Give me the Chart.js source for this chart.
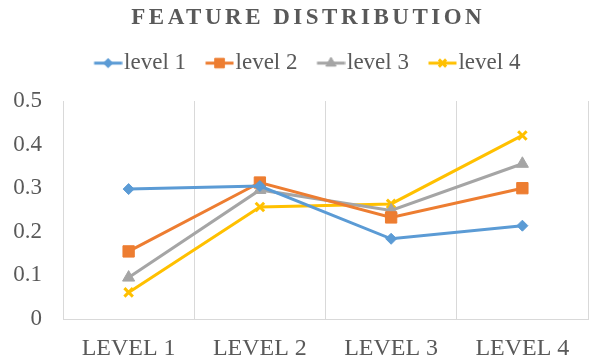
<!DOCTYPE html>
<html>
<head>
<meta charset="utf-8">
<script src="https://cdn.jsdelivr.net/npm/chart.js@4/dist/chart.umd.min.js"></script>
<style>
  html, body { margin: 0; padding: 0; background: #ffffff; }
  #wrap { width: 597px; height: 362px; position: relative; }
</style>
</head>
<body>
<div id="wrap"><canvas id="c" width="597" height="362"></canvas></div>
<script>
// ---- data ----
const titleText = 'FEATURE DISTRIBUTION';
const categories = ['LEVEL 1', 'LEVEL 2', 'LEVEL 3', 'LEVEL 4'];
const seriesNames = ['level 1', 'level 2', 'level 3', 'level 4'];
const level1 = [0.298, 0.305, 0.184, 0.214];
const level2 = [0.155, 0.313, 0.233, 0.300];
const level3 = [0.095, 0.296, 0.249, 0.356];
const level4 = [0.061, 0.257, 0.264, 0.421];
const yTickLabels = ['0', '0.1', '0.2', '0.3', '0.4', '0.5'];

// ---- styles ----
const FONT = "'Liberation Serif', 'Times New Roman', serif";
const TEXT = '#595959';
const GRID = '#D9D9D9';
const colors = ['#5B9BD5', '#ED7D31', '#A5A5A5', '#FFC000'];
const pointStyles = ['rectRot', 'rect', 'triangle', 'crossRot'];
const pointRadii = [5.5, 8, 7, 6];
const pointBorders = [1, 1, 1, 3];
const LEGEND_GAP = 16.4;
const TITLE_SHIFT = 13.25;
const LEGEND_SHIFT = 12.5;

function makeIcon(i) {
  const cv = document.createElement('canvas');
  cv.width = 38; cv.height = 18;
  const c = cv.getContext('2d');
  c.strokeStyle = colors[i];
  c.fillStyle = colors[i];
  c.lineWidth = 3;
  c.beginPath();
  c.moveTo(9.5, 9);
  c.lineTo(37.5, 9);
  c.stroke();
  c.lineWidth = pointBorders[i];
  Chart.helpers.drawPoint(c, {pointStyle: pointStyles[i], radius: pointRadii[i] * 0.85, borderWidth: pointBorders[i], rotation: 0}, 23.5, 9);
  return cv;
}

const seriesValues = [level1, level2, level3, level4];
const datasets = seriesValues.map((vals, i) => ({
  label: seriesNames[i],
  data: vals,
  borderColor: colors[i],
  backgroundColor: colors[i],
  borderWidth: 3,
  pointStyle: pointStyles[i],
  pointRadius: pointRadii[i],
  pointBorderWidth: pointBorders[i],
  pointBackgroundColor: colors[i],
  pointBorderColor: colors[i],
  tension: 0,
  fill: false
}));

const tweakPlugin = {
  id: 'tweaks',
  beforeLayout(chart) {
    const lg = chart.legend;
    if (lg && !lg._tw) {
      const f = lg.fit;
      lg.fit = function () { f.call(this); this.height += LEGEND_GAP; };
      const ld = lg.draw;
      lg.draw = function () {
        const c = this.ctx;
        c.save();
        c.translate(LEGEND_SHIFT, 0);
        ld.apply(this, arguments);
        c.restore();
      };
      lg._tw = true;
    }
    const tb = chart.titleBlock;
    if (tb && !tb._tw) {
      const d = tb.draw;
      tb.draw = function () {
        const c = this.ctx;
        c.save();
        c.translate(TITLE_SHIFT, 0);
        c.letterSpacing = '3.5px';
        d.apply(this, arguments);
        c.restore();
      };
      tb._tw = true;
    }
  }
};

const icons = seriesNames.map((_, i) => makeIcon(i));

new Chart(document.getElementById('c'), {
  type: 'line',
  data: { labels: categories, datasets: datasets },
  options: {
    responsive: false,
    animation: false,
    events: [],
    layout: { padding: { left: 0, right: 7, top: 0, bottom: 0 } },
    plugins: {
      tooltip: { enabled: false },
      title: {
        display: true,
        text: titleText,
        color: TEXT,
        font: { family: FONT, size: 23, weight: 'bold', lineHeight: 1.2 },
        padding: { top: 4, bottom: 0 }
      },
      legend: {
        display: true,
        position: 'top',
        labels: {
          color: TEXT,
          font: { family: FONT, size: 23 },
          padding: 20,
          usePointStyle: true,
          pointStyleWidth: 18,
          generateLabels: (chart) => chart.data.datasets.map((ds, i) => ({
            text: ds.label,
            pointStyle: icons[i],
            fillStyle: 'rgba(0,0,0,0)',
            strokeStyle: 'rgba(0,0,0,0)',
            lineWidth: 0,
            hidden: false,
            datasetIndex: i,
            fontColor: TEXT
          }))
        }
      }
    },
    scales: {
      x: {
        offset: true,
        grid: { display: true, offset: true, color: GRID, lineWidth: 1, drawTicks: false },
        border: { display: true, color: GRID, width: 1 },
        ticks: { color: TEXT, font: { family: FONT, size: 24 }, padding: 15, maxRotation: 0, autoSkip: false },
        afterFit: (s) => { s.height = 43; }
      },
      y: {
        min: 0,
        max: 0.5,
        grid: { display: false, drawTicks: false },
        border: { display: false },
        ticks: {
          stepSize: 0.1,
          color: TEXT,
          font: { family: FONT, size: 23 },
          padding: 21,
          callback: (v, i) => yTickLabels[i]
        },
        afterFit: (s) => { s.width = 63; }
      }
    }
  },
  plugins: [tweakPlugin]
});
</script>
</body>
</html>
